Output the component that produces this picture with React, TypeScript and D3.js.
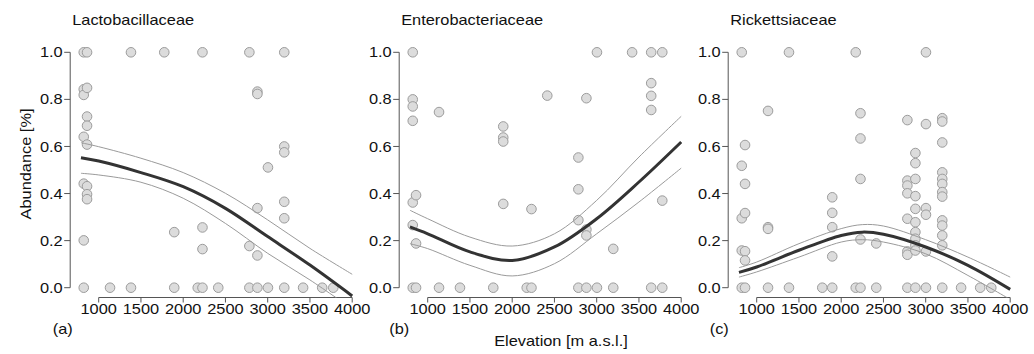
import React from "react";
import * as d3 from "d3";

// ---------- DATA ----------
const panelTitles = ["Lactobacillaceae", "Enterobacteriaceae", "Rickettsiaceae"];
const panelLetters = ["(a)", "(b)", "(c)"];
const xTicks = [1000, 1500, 2000, 2500, 3000, 3500, 4000];
const yTicks = [0, 0.2, 0.4, 0.6, 0.8, 1.0];

// Lactobacillaceae points
const lactoElev = [
  823, 823, 823, 823, 823, 823, 823,
  862, 862, 862, 862, 862, 862, 862, 862,
  1134, 1382, 1382, 1776, 1894, 1894, 2172,
  2228, 2228, 2228, 2228, 2415,
  2783, 2783, 2783,
  2878, 2878, 2878, 2878, 2878,
  3003, 3003,
  3196, 3196, 3196, 3196, 3196, 3196,
  3419, 3645, 3776,
];
const lactoAbund = [
  1.0, 0.843, 0.819, 0.641, 0.442, 0.201, 0.0,
  1.0, 0.849, 0.727, 0.688, 0.608, 0.431, 0.397, 0.376,
  0.0, 1.0, 0.0, 1.0, 0.236, 0.0, 0.0,
  1.0, 0.256, 0.164, 0.0, 0.0,
  1.0, 0.177, 0.0,
  0.833, 0.823, 0.338, 0.137, 0.0,
  0.511, 0.0,
  1.0, 0.6, 0.575, 0.365, 0.295, 0.0,
  0.0, 0.0, 0.0,
];

// Enterobacteriaceae points
const enteroElev = [
  823, 823, 823, 823, 823, 823, 823,
  862, 862, 862,
  1134, 1134, 1382, 1776,
  1894, 1894, 1894, 1894,
  2172, 2228, 2228, 2415,
  2783, 2783, 2783, 2783,
  2878, 2878, 2878, 2878,
  3003, 3003, 3196, 3196, 3419,
  3645, 3645, 3645, 3645, 3645,
  3776, 3776, 3776,
];
const enteroAbund = [
  1.0, 0.8, 0.77, 0.709, 0.362, 0.266, 0.0,
  0.393, 0.188, 0.0,
  0.746, 0.0, 0.0, 0.0,
  0.685, 0.638, 0.621, 0.356,
  0.0, 0.334, 0.0, 0.816,
  0.553, 0.418, 0.287, 0.0,
  0.805, 0.247, 0.222, 0.0,
  1.0, 0.0, 0.165, 0.0, 1.0,
  1.0, 0.869, 0.815, 0.755, 0.0,
  1.0, 0.37, 0.0,
];

// Rickettsiaceae points
const rickElev = [
  823, 823, 823, 823, 823,
  862, 862, 862, 862, 862, 862,
  1134, 1134, 1134, 1134,
  1382, 1382, 1776,
  1894, 1894, 1894, 1894, 1894,
  2172, 2172,
  2228, 2228, 2228, 2228, 2228,
  2415, 2415,
  2783, 2783, 2783, 2783, 2783, 2783, 2783, 2783,
  2878, 2878, 2878, 2878, 2878, 2878, 2878, 2878, 2878, 2878, 2878,
  3003, 3003, 3003, 3003, 3003, 3003,
  3196, 3196, 3196, 3196, 3196, 3196, 3196, 3196, 3196, 3196, 3196, 3196, 3196,
  3419, 3645, 3776,
];
const rickAbund = [
  1.0, 0.518, 0.295, 0.158, 0.0,
  0.606, 0.441, 0.317, 0.155, 0.116, 0.0,
  0.751, 0.257, 0.25, 0.0,
  1.0, 0.0, 0.0,
  0.384, 0.318, 0.257, 0.133, 0.0,
  1.0, 0.0,
  0.741, 0.634, 0.462, 0.205, 0.0,
  0.188, 0.0,
  0.712, 0.455, 0.434, 0.401, 0.293, 0.154, 0.14, 0.0,
  0.572, 0.529, 0.462, 0.389, 0.335, 0.278, 0.236, 0.208, 0.18, 0.158, 0.0,
  1.0, 0.695, 0.338, 0.31, 0.154, 0.0,
  0.72, 0.706, 0.617, 0.49, 0.462, 0.441, 0.406, 0.387, 0.286, 0.264, 0.222, 0.18, 0.0,
  0.0, 0.0, 0.0,
];

// Fitted curves with confidence bands
const lactoCurveElev = [790, 1000, 1500, 2000, 2500, 3000, 3500, 4000];
const lactoFit = [0.552, 0.538, 0.489, 0.429, 0.337, 0.217, 0.096, -0.035];
const lactoUpper = [0.616, 0.599, 0.55, 0.489, 0.401, 0.288, 0.167, 0.057];
const lactoLower = [0.486, 0.479, 0.448, 0.38, 0.273, 0.146, 0.033, -0.09];

const enteroCurveElev = [790, 1000, 1500, 2000, 2500, 3000, 3500, 4000];
const enteroFit = [0.258, 0.229, 0.152, 0.116, 0.173, 0.293, 0.449, 0.619];
const enteroUpper = [0.329, 0.293, 0.215, 0.177, 0.229, 0.371, 0.555, 0.728];
const enteroLower = [0.187, 0.166, 0.095, 0.05, 0.102, 0.229, 0.364, 0.508];

const rickCurveElev = [790, 1000, 1500, 2000, 2250, 2500, 3000, 3500, 4000];
const rickFit = [0.065, 0.088, 0.159, 0.222, 0.236, 0.227, 0.173, 0.095, -0.007];
const rickUpper = [0.085, 0.109, 0.187, 0.251, 0.268, 0.262, 0.204, 0.13, 0.045];
const rickLower = [0.045, 0.067, 0.13, 0.194, 0.204, 0.194, 0.144, 0.052, -0.05];

const panels = [
  { elev: lactoElev, abund: lactoAbund, cElev: lactoCurveElev, fit: lactoFit, up: lactoUpper, lo: lactoLower },
  { elev: enteroElev, abund: enteroAbund, cElev: enteroCurveElev, fit: enteroFit, up: enteroUpper, lo: enteroLower },
  { elev: rickElev, abund: rickAbund, cElev: rickCurveElev, fit: rickFit, up: rickUpper, lo: rickLower },
];

// ---------- LAYOUT ----------
const W = 1034;
const H = 354;
const panelOffset = 329;
const x1000 = 98.7;
const x4000 = 352.2;
const yTop = 52.3;
const yBottom = 287.7;
const xAxisY = 297.5;
const yAxisGap = 28.5;
const FONT = "'Liberation Sans', Arial, Helvetica, sans-serif";
const FS = 14;
const SX = 1.17;

const T = ({ x, y, anchor = "start", rotate = 0, children, dy = 0 }: any) => (
  <text
    transform={`translate(${x},${y})${rotate ? ` rotate(${rotate})` : ""} scale(${SX},1)`}
    textAnchor={anchor}
    dy={dy}
    fontFamily={FONT}
    fontSize={FS}
    fill="#111"
  >
    {children}
  </text>
);

export default function App() {
  const yScale = d3.scaleLinear().domain([0, 1]).range([yBottom, yTop]);
  const labelX = [52.7, 389.3, 709.7];

  return (
    <svg
      width={W}
      height={H}
      style={{ position: "absolute", left: 0, top: 0, background: "#fff" }}
    >
      <defs>
        {panels.map((_, i) => {
          const off = i * panelOffset;
          return (
            <clipPath id={`clip${i}`} key={i}>
              <rect
                x={x1000 + off - yAxisGap}
                y={0}
                width={x4000 - x1000 + yAxisGap + 1}
                height={xAxisY}
              />
            </clipPath>
          );
        })}
      </defs>
      {panels.map((p, i) => {
        const off = i * panelOffset;
        const xScale = d3.scaleLinear().domain([1000, 4000]).range([x1000 + off, x4000 + off]);
        const yAxisX = xScale(1000) - yAxisGap;
        const mk = (vals: number[]) =>
          d3
            .line<number>()
            .x((_, k) => xScale(p.cElev[k]))
            .y((v) => yScale(v))
            .curve(d3.curveCatmullRom.alpha(0.5))(vals) || "";
        return (
          <g key={i}>
            <T x={yAxisX + 2} y={25}>{panelTitles[i]}</T>
            <line x1={yAxisX} x2={yAxisX} y1={yScale(0)} y2={yScale(1)} stroke="#555" strokeWidth={1} />
            {yTicks.map((t) => (
              <g key={t}>
                <line x1={yAxisX - 6} x2={yAxisX} y1={yScale(t)} y2={yScale(t)} stroke="#555" strokeWidth={1} />
                <T x={yAxisX - 7.5} y={yScale(t)} anchor="end" dy="0.36em">{t.toFixed(1)}</T>
              </g>
            ))}
            <line x1={xScale(1000)} x2={xScale(4000)} y1={xAxisY} y2={xAxisY} stroke="#555" strokeWidth={1} />
            {xTicks.map((t) => (
              <g key={t}>
                <line x1={xScale(t)} x2={xScale(t)} y1={xAxisY} y2={xAxisY + 5} stroke="#555" strokeWidth={1} />
                <T x={xScale(t)} y={314} anchor="middle">{String(t)}</T>
              </g>
            ))}
            <T x={labelX[i]} y={334}>{panelLetters[i]}</T>
            {p.elev.map((e, k) => (
              <circle
                key={k}
                cx={xScale(e)}
                cy={yScale(p.abund[k])}
                r={4.8}
                fill="#dcdcdc"
                stroke="#9c9c9c"
                strokeWidth={1}
              />
            ))}
            <g clipPath={`url(#clip${i})`}>
              <path d={mk(p.up)} fill="none" stroke="#9a9a9a" strokeWidth={1} />
              <path d={mk(p.lo)} fill="none" stroke="#9a9a9a" strokeWidth={1} />
              <path d={mk(p.fit)} fill="none" stroke="#333" strokeWidth={3} />
            </g>
          </g>
        );
      })}
      <T x={31} y={164} rotate={-90} anchor="middle">Abundance [%]</T>
      <T x={561} y={346} anchor="middle">Elevation [m a.s.l.]</T>
    </svg>
  );
}
